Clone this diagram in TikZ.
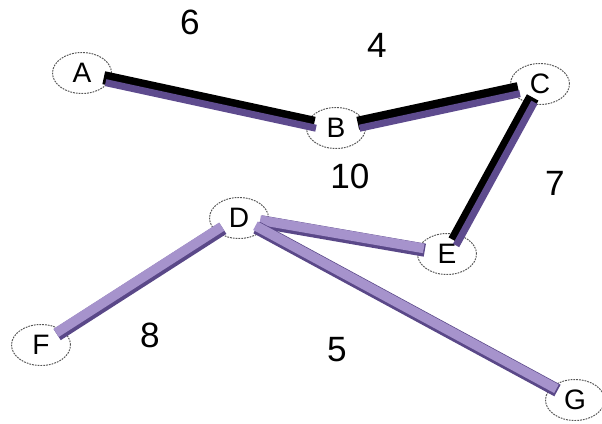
\documentclass[tikz,border=0pt]{standalone}
\usepackage{fontspec}
\setmainfont{Liberation Sans}
\usetikzlibrary{shapes.geometric, positioning}
\definecolor{barpurple}{HTML}{5E4B8E}
\definecolor{lightpurple}{HTML}{A693CC}
\definecolor{edgepurple}{HTML}{5A4888}
\definecolor{rimgray}{HTML}{555555}

\begin{document}
\begin{tikzpicture}[
  x=0.02cm, y=-0.02cm,
  vx/.style={ellipse, draw=rimgray, line width=0.55pt, dash pattern=on 1pt off 0.6pt,
             fill=white, minimum width=1.18cm, minimum height=0.82cm, inner sep=0pt,
             font=\fontsize{16}{16}\selectfont},
  wt/.style={font=\fontsize{20}{20}\selectfont},
  blackbar/.style={draw=black, line width=7.5pt, shorten <=-4pt, shorten >=-4pt},
  darkbar/.style={draw=barpurple, line width=4pt, shorten <=-4pt, shorten >=-4pt,
                  transform canvas={xshift=1pt, yshift=-2.8pt}},
  rimbar/.style={draw=edgepurple, line width=7.5pt, shorten <=-4pt, shorten >=-4pt},
  lightbar/.style={draw=lightpurple, line width=5.5pt, shorten <=-4pt, shorten >=-4pt,
                   transform canvas={xshift=-0.6pt, yshift=1pt}}
]
\useasboundingbox (0,0) rectangle (602,423);

% vertices
\node[vx] (A) at (82,73)   {A};
\node[vx] (B) at (336,128) {B};
\node[vx] (C) at (540,84)  {C};
\node[vx] (D) at (239,218) {D};
\node[vx] (E) at (447,254) {E};
\node[vx] (F) at (41,345)  {F};
\node[vx] (G) at (575,400) {G};

% weights
\node[wt] (w6)  at (190,22)  {6};
\node[wt] (w4)  at (377,45)  {4};
\node[wt] (w10) at (350,176) {10};
\node[wt] (w7)  at (555,183) {7};
\node[wt] (w8)  at (150,335) {8};
\node[wt] (w5)  at (337,350) {5};

% chosen edges
\draw[blackbar] (A) -- (B); \draw[darkbar] (A) -- (B);
\draw[blackbar] (B) -- (C); \draw[darkbar] (B) -- (C);
\draw[blackbar] (C) -- (E); \draw[darkbar] (C) -- (E);

% other edges
\draw[rimbar] (D) -- (E); \draw[lightbar] (D) -- (E);
\draw[rimbar] (D) -- (F); \draw[lightbar] (D) -- (F);
\draw[rimbar] (D) -- (G); \draw[lightbar] (D) -- (G);
\end{tikzpicture}
\end{document}
